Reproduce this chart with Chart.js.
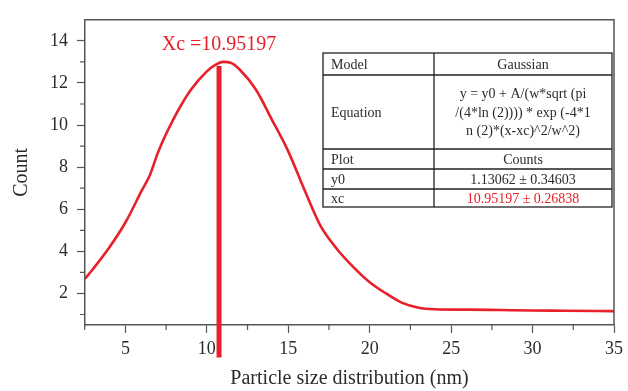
<!DOCTYPE html>
<html>
<head>
<meta charset="utf-8">
<script src="https://cdn.jsdelivr.net/npm/chart.js@4"></script>
<style>
  html, body { margin: 0; padding: 0; background: #fff; }
  #wrap { width: 628px; height: 391px; }
</style>
</head>
<body>
<div id="wrap"><canvas id="chart" width="628" height="391"></canvas></div>
<script>
// fitted curve
const sizeX = [2.52, 3, 4, 5, 6, 6.5, 7, 8, 9, 10, 10.5, 11, 11.5, 12, 13, 14, 15, 16, 17, 18, 19, 20, 21, 22, 23, 24, 26, 28, 30, 32, 35];
const countY = [2.7, 3.15, 4.17, 5.37, 6.88, 7.62, 8.7, 10.35, 11.65, 12.55, 12.85, 13.0, 12.95, 12.65, 11.7, 10.25, 8.75, 6.91, 5.18, 4.1, 3.25, 2.53, 2.0, 1.55, 1.32, 1.25, 1.23, 1.21, 1.19, 1.18, 1.16];

// red marker at xc
const markerX = [10.75, 10.75];
const markerY = [-1.05, 12.8];

const xTicks = [5, 10, 15, 20, 25, 30, 35];
const xMinor = [2.5, 7.5, 12.5, 17.5, 22.5, 27.5, 32.5];
const yTicks = [2, 4, 6, 8, 10, 12, 14];
const yMinor = [1, 3, 5, 7, 9, 11, 13];

const tableRows = [
  ['Model', ['Gaussian']],
  ['Equation', ['y = y0 + A/(w*sqrt (pi', '/(4*ln (2)))) * exp (-4*1', 'n (2)*(x-xc)^2/w^2)']],
  ['Plot', ['Counts']],
  ['y0', ['1.13062 \u00b1 0.34603']],
  ['xc', ['10.95197 \u00b1 0.26838']]
];
const xcLabel = 'Xc =10.95197';

const RED = '#e8202a';
const AXIS = '#555555';
const TEXT = '#2b2b2b';
const SERIF = '"Liberation Serif", "DejaVu Serif", serif';

const extras = {
  id: 'extras',
  afterDraw(chart) {
    const ctx = chart.ctx;
    const a = chart.chartArea;
    const xs = chart.scales.x, ys = chart.scales.y;
    ctx.save();
    // top and right frame
    ctx.strokeStyle = AXIS;
    ctx.lineWidth = 1.5;
    ctx.beginPath();
    ctx.moveTo(a.left, a.top);
    ctx.lineTo(a.right, a.top);
    ctx.lineTo(a.right, a.bottom);
    ctx.stroke();
    // minor ticks
    ctx.lineWidth = 1.2;
    ctx.beginPath();
    xMinor.forEach(v => {
      const px = xs.getPixelForValue(v);
      ctx.moveTo(px, a.bottom);
      ctx.lineTo(px, a.bottom + 5);
    });
    yMinor.forEach(v => {
      const py = ys.getPixelForValue(v);
      ctx.moveTo(a.left, py);
      ctx.lineTo(a.left - 5, py);
    });
    ctx.stroke();

    // xc label
    ctx.fillStyle = RED;
    ctx.font = '20px ' + SERIF;
    ctx.textAlign = 'center';
    ctx.textBaseline = 'middle';
    ctx.fillText(xcLabel, xs.getPixelForValue(markerX[0]), ys.getPixelForValue(13.8));

    // parameter table
    const tx = 323, tw = 289, col = 434;
    const rowY = [53, 75, 149, 169, 189, 207];
    ctx.fillStyle = '#fff';
    ctx.fillRect(tx, rowY[0], tw, rowY[5] - rowY[0]);
    ctx.strokeStyle = '#222';
    ctx.lineWidth = 1.3;
    ctx.strokeRect(tx, rowY[0], tw, rowY[5] - rowY[0]);
    ctx.beginPath();
    for (let i = 1; i < 5; i++) {
      ctx.moveTo(tx, rowY[i]);
      ctx.lineTo(tx + tw, rowY[i]);
    }
    ctx.moveTo(col, rowY[0]);
    ctx.lineTo(col, rowY[5]);
    ctx.stroke();
    ctx.font = '14px ' + SERIF;
    tableRows.forEach((r, i) => {
      const mid = (rowY[i] + rowY[i + 1]) / 2;
      ctx.fillStyle = TEXT;
      ctx.textAlign = 'left';
      ctx.fillText(r[0], 331, mid + 1);
      ctx.textAlign = 'center';
      ctx.fillStyle = i === 4 ? RED : TEXT;
      const n = r[1].length;
      r[1].forEach((s, j) => {
        ctx.fillText(s, (col + tx + tw) / 2, mid + 1 + (j - (n - 1) / 2) * 18.5);
      });
    });
    ctx.restore();
  }
};

new Chart(document.getElementById('chart'), {
  type: 'scatter',
  data: {
    datasets: [
      {
        data: sizeX.map((x, i) => ({ x: x, y: countY[i] })),
        showLine: true,
        borderColor: RED,
        borderWidth: 2.6,
        pointRadius: 0,
        cubicInterpolationMode: 'monotone'
      },
      {
        data: markerX.map((x, i) => ({ x: x, y: markerY[i] })),
        showLine: true,
        borderColor: RED,
        borderWidth: 5,
        pointRadius: 0,
        clip: false
      }
    ]
  },
  options: {
    responsive: false,
    animation: false,
    devicePixelRatio: 1,
    layout: { autoPadding: false, padding: { left: 10, right: 11, top: 12, bottom: 0 } },
    plugins: { legend: { display: false }, tooltip: { enabled: false } },
    scales: {
      x: {
        type: 'linear',
        min: 2.52,
        max: 35,
        afterBuildTicks: s => { s.ticks = xTicks.map(v => ({ value: v })); },
        afterFit: s => { s.height = 66; },
        grid: { drawOnChartArea: false, tickLength: 8, tickColor: AXIS, tickWidth: 1.2 },
        border: { color: AXIS, width: 1.5 },
        ticks: { color: TEXT, font: { family: SERIF, size: 18 }, padding: 5, maxRotation: 0 },
        title: { display: true, text: 'Particle size distribution (nm)', color: TEXT, font: { family: SERIF, size: 20 }, padding: { top: 2, bottom: 0 } }
      },
      y: {
        min: 0.5,
        max: 15,
        afterBuildTicks: s => { s.ticks = yTicks.map(v => ({ value: v })); },
        afterFit: s => { s.width = 75; },
        grid: { drawOnChartArea: false, tickLength: 8, tickColor: AXIS, tickWidth: 1.2 },
        border: { color: AXIS, width: 1.5 },
        ticks: { color: TEXT, font: { family: SERIF, size: 18 }, padding: 9 },
        title: { display: true, text: 'Count', color: TEXT, font: { family: SERIF, size: 20 }, padding: { top: 0, bottom: 4 } }
      }
    }
  },
  plugins: [extras]
});
</script>
</body>
</html>
